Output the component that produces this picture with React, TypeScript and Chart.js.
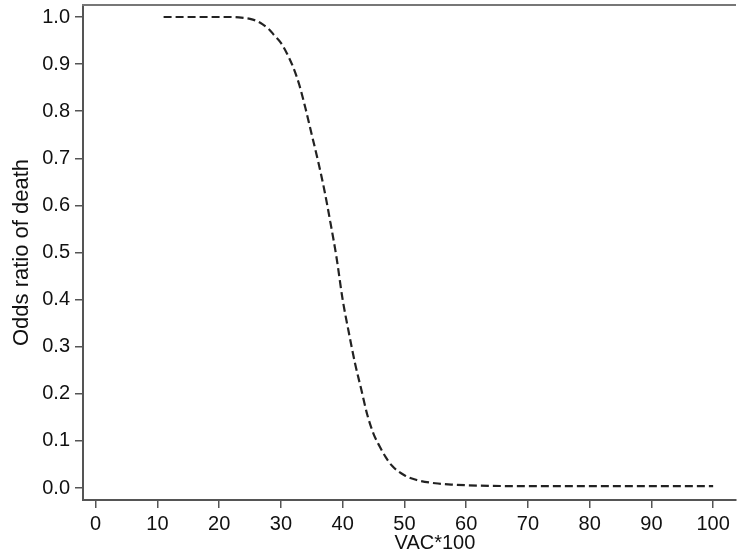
import React, { useEffect, useRef } from "react";
import { Chart, registerables } from "chart.js";

Chart.register(...registerables);

const vacX = [11, 15, 20, 22, 24, 25, 26, 27, 28, 29, 30, 31, 32, 33, 34, 35, 36, 37, 38, 39, 40, 41, 42, 43, 44, 45, 46, 47, 48, 50, 52, 55, 58, 62, 70, 80, 90, 100];
const oddsY = [1.0, 1.0, 1.0, 1.0, 0.998, 0.996, 0.992, 0.985, 0.975, 0.96, 0.945, 0.922, 0.893, 0.855, 0.805, 0.75, 0.695, 0.635, 0.565, 0.49, 0.40, 0.33, 0.265, 0.21, 0.155, 0.115, 0.088, 0.065, 0.047, 0.027, 0.017, 0.01, 0.007, 0.005, 0.004, 0.004, 0.004, 0.004];

const xTicks = [0, 10, 20, 30, 40, 50, 60, 70, 80, 90, 100];
const yTicks = [0, 0.1, 0.2, 0.3, 0.4, 0.5, 0.6, 0.7, 0.8, 0.9, 1.0];

const xTitle = "VAC*100";
const yTitle = "Odds ratio of death";

const FONT = "'Liberation Sans', Arial, Helvetica, sans-serif";

export default function App() {
  const ref = useRef<HTMLCanvasElement | null>(null);

  useEffect(() => {
    if (!ref.current) return;
    const frame = {
      id: "frame",
      afterDraw(chart: any) {
        const { ctx, chartArea } = chart;
        ctx.save();
        ctx.strokeStyle = "#777";
        ctx.lineWidth = 2;
        ctx.beginPath();
        ctx.moveTo(chartArea.left - 1, chartArea.top);
        ctx.lineTo(chartArea.right, chartArea.top);
        ctx.stroke();
        ctx.fillStyle = "#111";
        ctx.font = `20px ${FONT}`;
        ctx.textAlign = "center";
        ctx.textBaseline = "middle";
        const cx = chartArea.left + (chartArea.right - chartArea.left) * 0.539;
        ctx.fillText(xTitle, cx, chartArea.bottom + 43.5);
        ctx.restore();
      },
    };
    const chart = new Chart(ref.current, {
      type: "line",
      data: {
        datasets: [
          {
            data: vacX.map((x, i) => ({ x, y: oddsY[i] })),
            borderColor: "#222",
            borderWidth: 2.2,
            borderDash: [8, 4],
            pointRadius: 0,
            fill: false,
            cubicInterpolationMode: "monotone",
          },
        ],
      },
      options: {
        animation: false,
        responsive: false,
        layout: { padding: { top: 5, right: 14, left: 0, bottom: 0 } },
        plugins: { legend: { display: false }, tooltip: { enabled: false } },
        scales: {
          x: {
            type: "linear",
            min: -2.05,
            max: 103.7,
            afterBuildTicks: (s: any) => {
              s.ticks = xTicks.map((v) => ({ value: v }));
            },
            afterFit: (s: any) => {
              s.height = 55;
              s.paddingLeft = 0;
              s.paddingRight = 0;
            },
            border: { display: true, color: "#555", width: 2 },
            grid: { drawOnChartArea: false, drawTicks: true, tickLength: 8, color: "#555", lineWidth: 1.5 },
            ticks: {
              color: "#111",
              font: { family: FONT, size: 20 },
              padding: 4,
              maxRotation: 0,
              autoSkip: false,
              callback: (v: any) => String(v),
            },
          },
          y: {
            type: "linear",
            min: -0.0255,
            max: 1.0255,
            afterBuildTicks: (s: any) => {
              s.ticks = yTicks.map((v) => ({ value: v }));
            },
            afterFit: (s: any) => {
              s.width = 83;
              s.paddingTop = 0;
              s.paddingBottom = 0;
            },
            border: { display: true, color: "#555", width: 2 },
            grid: { drawOnChartArea: false, drawTicks: true, tickLength: 8, color: "#555", lineWidth: 1.5 },
            ticks: {
              color: "#111",
              font: { family: FONT, size: 20 },
              padding: 5,
              autoSkip: false,
              callback: (v: any) => Number(v).toFixed(1),
            },
            title: {
              display: true,
              text: yTitle,
              color: "#111",
              font: { family: FONT, size: 22 },
              padding: { top: 9, bottom: 0 },
            },
          },
        },
      },
      plugins: [frame],
    } as any);
    return () => chart.destroy();
  }, []);

  return (
    <div style={{ position: "fixed", left: 0, top: 0, width: 750, height: 555, background: "#fff" }}>
      <canvas ref={ref} width={750} height={555} style={{ width: 750, height: 555 }} />
    </div>
  );
}
